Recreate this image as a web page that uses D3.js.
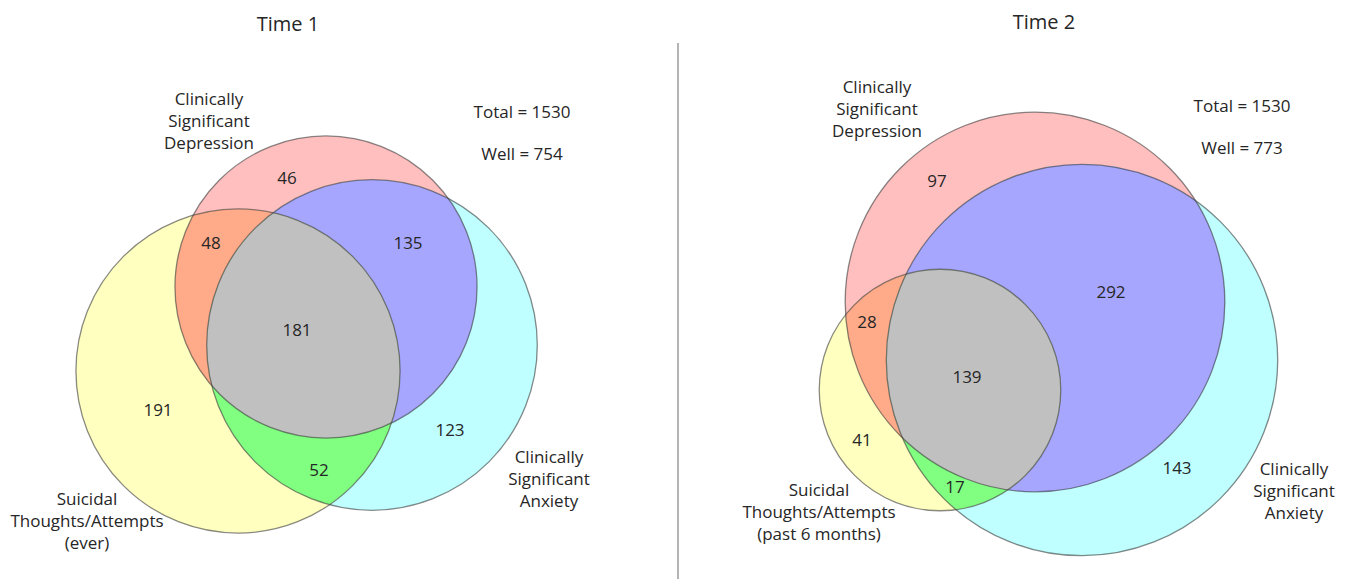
<!DOCTYPE html>
<html>
<head>
<meta charset="utf-8">
<script src="https://cdn.jsdelivr.net/npm/d3@7"></script>
<style>
  body { margin: 0; background: #fff; }
  svg text { font-family: "Open Sans", sans-serif; fill: #262626; }
</style>
</head>
<body>
<div id="chart"></div>
<script>
// Two area-proportional Venn diagrams (Time 1 / Time 2)

// ---- data ----
const panelTitles = ['Time 1', 'Time 2'];
const setKeys = ['D', 'A', 'S'];   // depression, anxiety, suicidal
const regionKeys = ['D', 'A', 'S', 'DA', 'DS', 'AS', 'DAS'];
const time1Counts = [46, 123, 191, 135, 48, 52, 181];
const time2Counts = [97, 143, 41, 292, 28, 17, 139];
const totals = [1530, 1530];
const wellCounts = [754, 773];
const depressionLabel = ['Clinically', 'Significant', 'Depression'];
const anxietyLabel = ['Clinically', 'Significant', 'Anxiety'];
const suicidalLabels = [
    ['Suicidal', 'Thoughts/Attempts', '(ever)'],
    ['Suicidal', 'Thoughts/Attempts', '(past 6 months)']
];

// ---- layout ----
const W = 1349, H = 579;
const regionColors = {
    D: '#ffbfbf', A: '#bfffff', S: '#ffffc0',
    DA: '#a6a6ff', DS: '#ffaa88', AS: '#80ff80', DAS: '#c0c0c0'
};
const panels = [
    {
        counts: time1Counts, titleX: 288, titleY: 24,
        rScale: d3.scaleSqrt().domain([0, 500]).range([0, 166.8]),
        centers: { D: [326, 287], A: [372, 345], S: [238, 371] },
        regionPos: { D: [287, 178], A: [450, 430], S: [158, 410], DA: [408, 243], DS: [211, 243], AS: [319, 470], DAS: [297, 330] },
        depLabel: [209, 99], anxLabel: [549, 457], suiLabel: [87, 499],
        totalPos: [522, 112], wellPos: [522, 154]
    },
    {
        counts: time2Counts, titleX: 1044, titleY: 22,
        rScale: d3.scaleSqrt().domain([0, 600]).range([0, 197.2]),
        centers: { D: [1035, 302], A: [1082, 360], S: [940, 390] },
        regionPos: { D: [937, 181], A: [1177, 468], S: [862, 440], DA: [1111, 292], DS: [867, 322], AS: [955, 487], DAS: [967, 377] },
        depLabel: [877, 87], anxLabel: [1294, 469], suiLabel: [819, 490],
        totalPos: [1242, 106], wellPos: [1242, 148]
    }
];

const svg = d3.select('#chart').append('svg')
    .attr('width', W)
    .attr('height', H);

const defs = svg.append('defs');

// divider between the two panels
svg.append('line')
    .attr('x1', 678).attr('x2', 678)
    .attr('y1', 43).attr('y2', H)
    .attr('stroke', '#b4b4b4')
    .attr('stroke-width', 2);

function setSize(counts, key) {
    // sum of all regions containing this set
    return d3.sum(regionKeys.map((k, i) => k.includes(key) ? counts[i] : 0));
}

function multiline(g, lines, x, y, lineH) {
    const t = g.append('text')
        .attr('x', x).attr('y', y)
        .attr('text-anchor', 'middle')
        .style('font-size', '17px');
    lines.forEach((l, i) => {
        t.append('tspan')
            .attr('x', x)
            .attr('dy', i === 0 ? '0.35em' : lineH)
            .text(l);
    });
}

panels.forEach((p, pi) => {
    const g = svg.append('g');
    const circles = {};
    setKeys.forEach(k => {
        circles[k] = {
            cx: p.centers[k][0],
            cy: p.centers[k][1],
            r: p.rScale(setSize(p.counts, k))
        };
        defs.append('clipPath')
            .attr('id', `clip-${pi}-${k}`)
            .append('circle')
            .attr('cx', circles[k].cx)
            .attr('cy', circles[k].cy)
            .attr('r', circles[k].r);
    });

    // fill regions: singles, then pairs (clipped), then the triple
    const fillOrder = ['D', 'A', 'S', 'DA', 'DS', 'AS', 'DAS'];
    fillOrder.forEach(key => {
        const parts = key.split('');
        const base = parts[parts.length - 1];
        const clips = parts.slice(0, -1);
        let parent = g;
        clips.forEach(c => {
            parent = parent.append('g').attr('clip-path', `url(#clip-${pi}-${c})`);
        });
        parent.append('circle')
            .attr('cx', circles[base].cx)
            .attr('cy', circles[base].cy)
            .attr('r', circles[base].r)
            .attr('fill', regionColors[key]);
    });

    // outlines
    g.selectAll('circle.outline')
        .data(setKeys)
        .enter()
        .append('circle')
        .attr('class', 'outline')
        .attr('cx', d => circles[d].cx)
        .attr('cy', d => circles[d].cy)
        .attr('r', d => circles[d].r)
        .attr('fill', 'none')
        .attr('stroke', '#3a3a3a')
        .attr('stroke-opacity', 0.6)
        .attr('stroke-width', 1.3);

    // region counts
    g.selectAll('text.count')
        .data(regionKeys)
        .enter()
        .append('text')
        .attr('class', 'count')
        .attr('x', d => p.regionPos[d][0])
        .attr('y', d => p.regionPos[d][1])
        .attr('dy', '0.35em')
        .attr('text-anchor', 'middle')
        .style('font-size', '17px')
        .text((d, i) => p.counts[i]);

    // title
    g.append('text')
        .attr('x', p.titleX).attr('y', p.titleY)
        .attr('dy', '0.35em')
        .attr('text-anchor', 'middle')
        .style('font-size', '20px')
        .text(panelTitles[pi]);

    // set labels
    multiline(g, depressionLabel, p.depLabel[0], p.depLabel[1], 22);
    multiline(g, anxietyLabel, p.anxLabel[0], p.anxLabel[1], 22);
    multiline(g, suicidalLabels[pi], p.suiLabel[0], p.suiLabel[1], 22);

    g.append('text')
        .attr('x', p.totalPos[0]).attr('y', p.totalPos[1])
        .attr('dy', '0.35em')
        .attr('text-anchor', 'middle')
        .style('font-size', '17px')
        .text(`Total = ${totals[pi]}`);
    g.append('text')
        .attr('x', p.wellPos[0]).attr('y', p.wellPos[1])
        .attr('dy', '0.35em')
        .attr('text-anchor', 'middle')
        .style('font-size', '17px')
        .text(`Well = ${wellCounts[pi]}`);
});
</script>
</body>
</html>
